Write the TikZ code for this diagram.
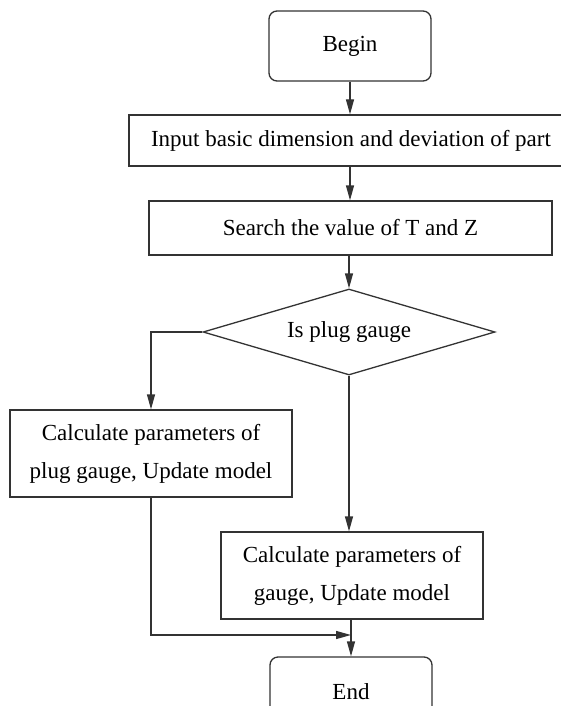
\documentclass[tikz,border=0pt]{standalone}
\usepackage{fontspec}
\setmainfont{Liberation Serif}
\usetikzlibrary{shapes.geometric,arrows.meta}
\begin{document}
\begin{tikzpicture}[x=1pt,y=-1pt,
  every node/.style={font=\fontsize{23}{38}\selectfont, inner sep=0pt, text=black},
  linec/.style={draw=black!80, line width=1.3pt},
  terminal/.style={linec, rounded corners=8pt, minimum width=162pt, minimum height=70pt},
  procbox/.style={linec, minimum height=51pt, align=center},
  decbox/.style={linec, diamond, aspect=3.4, minimum width=292pt, minimum height=86pt},
  flow/.style={linec, -{Triangle[length=15pt,width=8pt]}}]
\useasboundingbox (0,0) rectangle (561,706);
\clip (0,0) rectangle (561,706);
\node[terminal] (begin) at (350,46) {Begin};
\node[procbox, minimum width=444pt, minimum height=51pt] (input) at (351,140.5) {Input basic dimension and deviation of part};
\node[procbox, minimum width=403pt, minimum height=54pt] (search) at (350.5,228) {Search the value of T and Z};
\node[decbox] (dec) at (349,332) {Is plug gauge};
\node[procbox, minimum width=282pt, minimum height=87pt] (left) at (151,453.5) {Calculate parameters of\\plug gauge, Update model};
\node[procbox, minimum width=262pt, minimum height=87pt] (right) at (352,575.5) {Calculate parameters of\\gauge, Update model};
\node[terminal] (end) at (351,692) {End};
\coordinate (join) at (351,635);
\draw[flow] (begin.south) -- (begin.south |- input.north);
\draw[flow] (input.south -| begin.south) -- (begin.south |- search.north);
\draw[flow] (search.south -| dec.north) -- (dec.north);
\draw[flow] (dec.west) -| (left.north);
\draw[flow] (dec.south) -- (dec.south |- right.north);
\draw[flow] (right.south -| end.north) -- (end.north);
\draw[flow] (left.south) |- (join);
\end{tikzpicture}
\end{document}
